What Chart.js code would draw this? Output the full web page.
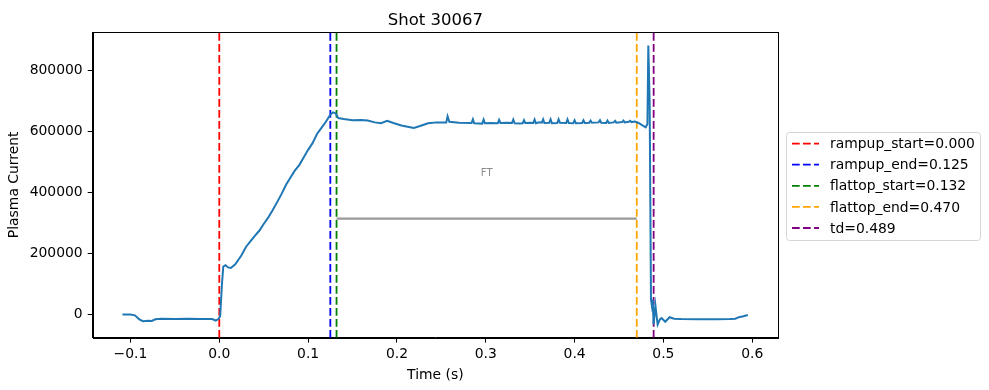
<!DOCTYPE html>
<html>
<head>
<meta charset="utf-8">
<script src="https://cdn.jsdelivr.net/npm/chart.js@4.4.1/dist/chart.umd.min.js"></script>
<style>
  html, body { margin: 0; padding: 0; background: #fff; }
  #wrap { width: 989px; height: 390px; position: relative; }
</style>
</head>
<body>
<div id="wrap"><canvas id="shotChart"></canvas></div>
<script>
    // plasma current trace (time in s, current in A)
    const times = [
        -0.109, -0.100, -0.095, -0.090, -0.086, -0.080, -0.076, -0.072, -0.065, -0.050,
        -0.035, -0.020, -0.008, -0.004, -0.001, 0.001, 0.003, 0.0045, 0.007, 0.010,
        0.013, 0.018, 0.025, 0.030, 0.035, 0.040, 0.045, 0.050, 0.055, 0.060,
        0.065, 0.070, 0.075, 0.080, 0.085, 0.090, 0.095, 0.100, 0.105, 0.110,
        0.115, 0.120, 0.125, 0.128, 0.131, 0.134, 0.140, 0.150, 0.160, 0.167,
        0.175, 0.182, 0.189, 0.196, 0.205, 0.212, 0.219, 0.226, 0.235, 0.245,
        0.2555, 0.257, 0.259, 0.270, 0.284, 0.2855, 0.287, 0.296, 0.2976, 0.299,
        0.305, 0.3135, 0.315, 0.3165, 0.324, 0.3295, 0.331, 0.3325, 0.338, 0.3415,
        0.343, 0.3445, 0.350, 0.3535, 0.355, 0.3565, 0.360, 0.3631, 0.3646, 0.366,
        0.3715, 0.373, 0.3745, 0.3805, 0.382, 0.3835, 0.3905, 0.392, 0.3935, 0.3985,
        0.400, 0.4015, 0.4085, 0.410, 0.4115, 0.4165, 0.418, 0.4195, 0.427, 0.4286,
        0.430, 0.4355, 0.437, 0.4385, 0.444, 0.4456, 0.447, 0.4535, 0.455, 0.4565,
        0.461, 0.4625, 0.464, 0.468, 0.472, 0.476, 0.480, 0.482, 0.483, 0.4845,
        0.486, 0.487, 0.488, 0.489, 0.491, 0.4935, 0.496, 0.498, 0.502, 0.507,
        0.512, 0.520, 0.540, 0.560, 0.575, 0.581, 0.585, 0.590, 0.595
    ];
    const current = [
        1000, 500, -2000, -15000, -21000, -20000, -20500, -15000, -13000, -14000,
        -13500, -14000, -14000, -19000, -14000, -5000, 100000, 158000, 162000, 155000,
        153000, 165000, 195000, 222000, 240000, 258000, 275000, 297000, 318000, 342000,
        368000, 395000, 425000, 449000, 472000, 490000, 515000, 540000, 562000, 592000,
        612000, 632000, 655000, 663000, 660000, 644000, 641000, 637000, 638000, 636000,
        630000, 627000, 635000, 628000, 620000, 616000, 612000, 618000, 627000, 630000,
        630000, 650000, 632000, 629000, 628000, 640000, 627000, 626000, 639000, 627000,
        628000, 627000, 638000, 628000, 629000, 628000, 639000, 627000, 626000, 627000,
        637000, 628000, 629000, 628000, 639000, 627000, 630000, 629000, 640000, 628000,
        629000, 640000, 627000, 628000, 640000, 629000, 628000, 640000, 628000, 627000,
        637000, 627000, 628000, 637000, 628000, 629000, 636000, 629000, 630000, 637000,
        629000, 628000, 636000, 628000, 630000, 635000, 629000, 631000, 636000, 630000,
        632000, 635000, 631000, 633000, 628000, 621000, 614000, 625000, 882000, 700000,
        50000, 30000, 50000, -32000, 30000, -32000, -15000, -11000, -23000, -8000,
        -13000, -14000, -15000, -14500, -14000, -13000, -8000, -5000, -1000
    ];

    // phase markers
    const eventNames = ['rampup_start', 'rampup_end', 'flattop_start', 'flattop_end', 'td'];
    const eventTimes = [0.000, 0.125, 0.132, 0.470, 0.489];
    const eventColors = ['red', 'blue', 'green', 'orange', 'purple'];

    // flattop segment drawn at half of the flattop current
    const ftLabel = 'FT';
    const ftLevel = 315000;
    const ftTextLevel = 462000;

    const xTicks = [-0.1, 0.0, 0.1, 0.2, 0.3, 0.4, 0.5, 0.6];
    const yTicks = [0, 200000, 400000, 600000, 800000];
    const xRange = [-0.1425, 0.629];
    const yRange = [-75000, 926000];

    const FONT = 'DejaVu Sans';
    const DASH = [7.7, 3.3];

    function renderChart() {
        const ctx = document.getElementById('shotChart').getContext('2d');

        const datasets = [{
            label: 'Plasma Current',
            data: times.map((t, i) => ({ x: t, y: current[i] })),
            borderColor: '#1f77b4',
            borderWidth: 2,
            pointRadius: 0,
            tension: 0,
            order: 0
        }, {
            label: ftLabel,
            data: [{ x: eventTimes[2], y: ftLevel }, { x: eventTimes[3], y: ftLevel }],
            borderColor: 'rgba(128,128,128,0.8)',
            borderWidth: 2.2,
            pointRadius: 0,
            order: 2
        }];

        eventNames.forEach((name, i) => {
            datasets.push({
                label: name + '=' + eventTimes[i].toFixed(3),
                data: [{ x: eventTimes[i], y: yRange[0] }, { x: eventTimes[i], y: yRange[1] }],
                borderColor: eventColors[i],
                backgroundColor: eventColors[i],
                borderWidth: 1.8,
                borderDash: DASH,
                pointRadius: 0,
                order: 1
            });
        });

        // frame, title, FT text and an outside legend (matplotlib look)
        const decorations = {
            id: 'decorations',
            afterDatasetsDraw(chart) {
                const c = chart.ctx;
                const xs = chart.scales.x, ys = chart.scales.y;
                c.save();
                c.fillStyle = 'rgba(128,128,128,0.9)';
                c.font = '10px ' + FONT;
                c.textAlign = 'center';
                c.textBaseline = 'middle';
                c.fillText(ftLabel, xs.getPixelForValue((eventTimes[2] + eventTimes[3]) / 2), ys.getPixelForValue(ftTextLevel));
                c.restore();
            },
            afterDraw(chart) {
                const c = chart.ctx;
                const a = chart.chartArea;
                c.save();
                c.strokeStyle = '#000';
                c.lineWidth = 1;
                c.strokeRect(Math.round(a.left) + 0.5, Math.round(a.top) + 0.5, Math.round(a.right - a.left), Math.round(a.bottom - a.top));

                c.fillStyle = '#000';
                c.font = '16.5px ' + FONT;
                c.textAlign = 'center';
                c.textBaseline = 'alphabetic';
                c.fillText('Shot 30067', (a.left + a.right) / 2, a.top - 7);

                // legend for the marker lines, centred on the axes' right side
                const items = chart.data.datasets.slice(2);
                const rowH = 21.1;
                const midY = (a.top + a.bottom) / 2 + 1;
                const boxL = a.right + 8, boxW = 194, boxH = 108;
                c.strokeStyle = '#d6d6d6';
                c.beginPath();
                c.roundRect(boxL + 0.5, Math.round(midY - boxH / 2) + 0.5, boxW, boxH, 3);
                c.fillStyle = 'rgba(255,255,255,0.8)';
                c.fill();
                c.stroke();

                c.font = '13.9px ' + FONT;
                c.textAlign = 'left';
                c.textBaseline = 'middle';
                items.forEach((ds, i) => {
                    const y = midY + (i - (items.length - 1) / 2) * rowH;
                    c.strokeStyle = ds.borderColor;
                    c.lineWidth = ds.borderWidth;
                    c.setLineDash(DASH);
                    c.beginPath();
                    c.moveTo(boxL + 6, y);
                    c.lineTo(boxL + 33, y);
                    c.stroke();
                    c.setLineDash([]);
                    c.fillStyle = '#000';
                    c.fillText(ds.label, boxL + 44, y + 1);
                });
                c.restore();
            }
        };

        window.shotChart = new Chart(ctx, {
            type: 'line',
            data: { datasets: datasets },
            plugins: [decorations],
            options: {
                responsive: true,
                maintainAspectRatio: false,
                devicePixelRatio: 1,
                animation: false,
                layout: { padding: { top: 32, left: 6, right: 211, bottom: 6 } },
                plugins: {
                    legend: { display: false },
                    tooltip: { enabled: false },
                    title: { display: false }
                },
                scales: {
                    x: {
                        type: 'linear',
                        min: xRange[0],
                        max: xRange[1],
                        afterBuildTicks: axis => { axis.ticks = xTicks.map(v => ({ value: v })); },
                        ticks: {
                            color: '#000',
                            font: { family: FONT, size: 13.9 },
                            padding: 3,
                            maxRotation: 0,
                            callback: v => (v < 0 ? '\u2212' : '') + Math.abs(v).toFixed(1)
                        },
                        grid: { drawOnChartArea: false, drawTicks: true, tickLength: 5, color: '#000' },
                        border: { display: true, color: '#000' },
                        title: {
                            display: true,
                            text: 'Time (s)',
                            color: '#000',
                            font: { family: FONT, size: 13.9 },
                            padding: { top: 2, bottom: 0 }
                        }
                    },
                    y: {
                        type: 'linear',
                        min: yRange[0],
                        max: yRange[1],
                        afterBuildTicks: axis => { axis.ticks = yTicks.map(v => ({ value: v })); },
                        ticks: {
                            color: '#000',
                            font: { family: FONT, size: 13.9 },
                            padding: 5,
                            callback: v => String(v)
                        },
                        grid: { drawOnChartArea: false, drawTicks: true, tickLength: 5, color: '#000' },
                        border: { display: true, color: '#000' },
                        title: {
                            display: true,
                            text: 'Plasma Current',
                            color: '#000',
                            font: { family: FONT, size: 13.9 },
                            padding: { top: 0, bottom: 2 }
                        }
                    }
                }
            }
        });
    }

    window.onload = renderChart;
</script>
</body>
</html>
